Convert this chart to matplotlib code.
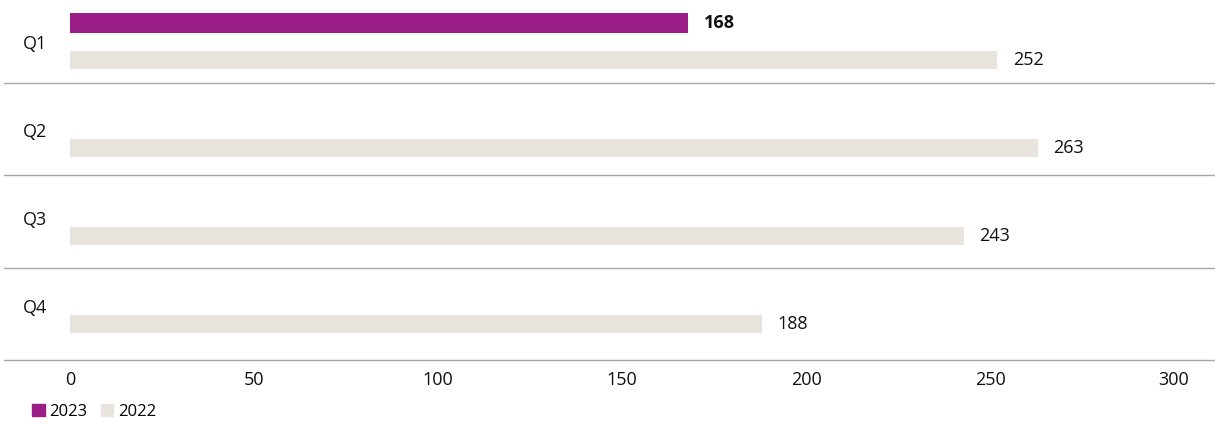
import matplotlib

matplotlib.use("Agg")

import matplotlib.pyplot as plt
import matplotlib.transforms as mtransforms
import numpy as np
from matplotlib.patches import Patch

quarters = ["Q1", "Q2", "Q3", "Q4"]
values_2023 = [168, None, None, None]
values_2022 = [252, 263, 243, 188]
series_names = ["2023", "2022"]
xticks = [0, 50, 100, 150, 200, 250, 300]

PURPLE = "#9b1d87"
BEIGE = "#e8e4dd"
RULE = "#aea7a1"

W, H = 1215, 424
# pixel rows of the horizontal rules (they don't follow the bar spacing exactly)
rule_rows = [82.5, 175, 267.5, 360]

plt.rcParams["font.family"] = ["Open Sans", "DejaVu Sans"]

fig = plt.figure(figsize=(W / 100, H / 100), dpi=100)
ax = fig.add_axes([70 / W, 1 - 360 / H, 1104 / W, 360 / H])

y = np.arange(len(quarters))
offset = 0.21

for i, v in enumerate(values_2023):
    if v is None:
        continue
    ax.barh(y[i] - offset, v, height=0.23, color=PURPLE)
    ax.annotate(f"{v}", (v, y[i] - offset), xytext=(11, 0), textcoords="offset points",
                va="center", ha="left", fontsize=13, fontweight="bold", color="#111111")

ax.barh(y + offset, values_2022, height=0.21, color=BEIGE)
for i, v in enumerate(values_2022):
    ax.annotate(f"{v}", (v, y[i] + offset), xytext=(11, 0), textcoords="offset points",
                va="center", ha="left", fontsize=13, color="#111111")

ax.set_xlim(0, 300)
ax.set_ylim((360 - 41.5) / 88, -41.5 / 88)
ax.set_xticks(xticks)
ax.set_yticks(y)
ax.set_yticklabels(quarters)
ax.tick_params(axis="both", length=0, labelsize=13, colors="#111111")
ax.tick_params(axis="x", pad=8)
for s in ax.spines.values():
    s.set_visible(False)

# separator rules run across the whole figure width
for row in rule_rows:
    fig.add_artist(plt.Line2D([4 / W, 1.0], [1 - row / H, 1 - row / H],
                              transform=fig.transFigure, color=RULE, lw=1.0))

# left-align the quarter labels
trans = mtransforms.blended_transform_factory(fig.transFigure, ax.transData)
for lab in ax.get_yticklabels():
    lab.set_transform(trans)
    lab.set_position((23 / W, lab.get_position()[1]))
    lab.set_horizontalalignment("left")

handles = [Patch(color=PURPLE), Patch(color=BEIGE)]
fig.legend(handles, series_names, loc="center left",
           bbox_to_anchor=(32 / W, 1 - 412 / H), ncol=2, frameon=False,
           handlelength=0.75, handleheight=0.75, handletextpad=0.3,
           columnspacing=0.8, borderpad=0, borderaxespad=0, fontsize=12)

fig.savefig("out.png", dpi=100)
